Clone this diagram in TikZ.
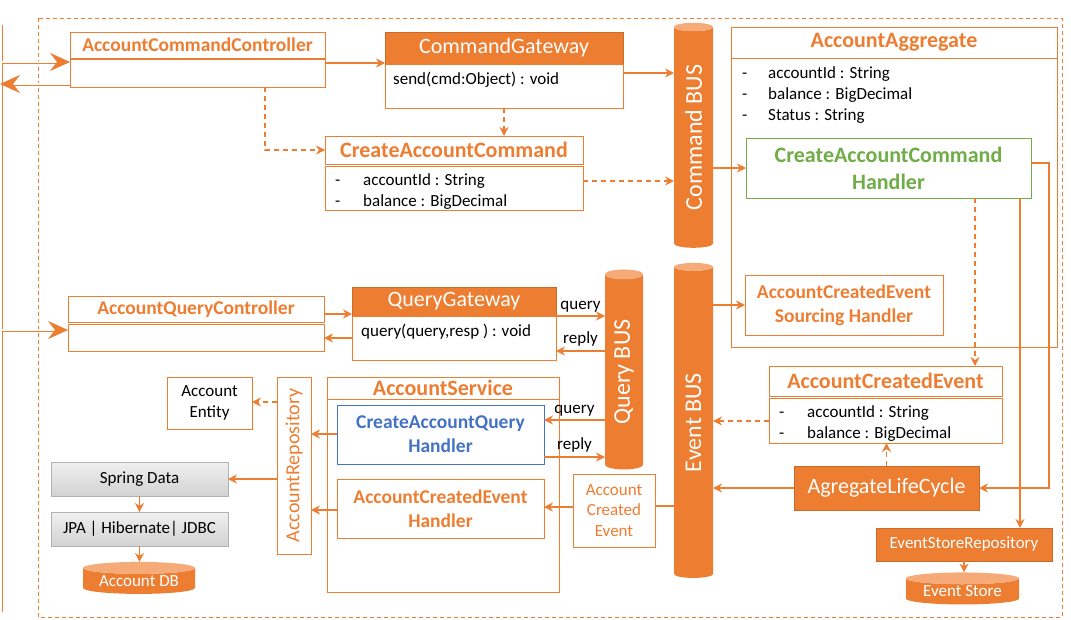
\documentclass[tikz,border=0pt]{standalone}
\usepackage{fontspec}
\setmainfont{Carlito}
\usepackage{graphicx}
\usetikzlibrary{arrows.meta,shapes.geometric}
\definecolor{ora}{RGB}{237,125,49}
\definecolor{oralight}{RGB}{245,170,120}
\definecolor{grn}{RGB}{112,173,71}
\definecolor{blu}{RGB}{68,114,196}
\newcommand{\dashfld}[2]{\makebox[#1][l]{-}#2}

\tikzset{
  >={Stealth[length=9pt,width=9pt,inset=3pt]},
  umlbox/.style={draw=ora, line width=0.9pt, fill=white, inner sep=0pt, outer sep=0pt, anchor=north west, align=center},
  ttl/.style={umlbox, text=ora, font=\fontsize{19.5}{24}\selectfont\bfseries},
  ttlbig/.style={ttl, font=\fontsize{22}{27}\selectfont\bfseries},
  hdr/.style={umlbox, draw=ora!85!black, fill=ora, text=white, font=\fontsize{22}{26}\selectfont},
  fld/.style={anchor=west, inner sep=0pt, align=left, font=\fontsize{17}{21}\selectfont},
  greybox/.style={umlbox, draw=gray!60, top color=gray!12, bottom color=gray!35, font=\fontsize{17}{20}\selectfont},
  bus/.style={cylinder, shape border rotate=90, aspect=0.5, cylinder uses custom fill, cylinder body fill=ora, cylinder end fill=oralight, inner sep=0pt, outer sep=0pt, text=white, minimum width=39pt, font=\fontsize{24}{28}\selectfont},
  conn/.style={draw=ora, line width=1.2pt},
  dconn/.style={conn, dash pattern=on 5pt off 4pt},
  dbl/.style={draw=ora, line width=0.7pt, double=white, double distance=1.6pt, -{Stealth[length=20pt,width=18pt,inset=7pt]}},
  lbl/.style={inner sep=0pt, font=\fontsize{17}{20}\selectfont}
}

\begin{document}
\begin{tikzpicture}[x=1pt,y=-1pt]
  \useasboundingbox (0,0) rectangle (1071,619);
  % frame and client side
  \draw[ora, line width=0.8pt, dash pattern=on 4pt off 3pt] (38,18) rectangle (1062,617);
  \draw[ora, line width=1pt] (2,25) -- (2,612);
  \coordinate (in1) at (2,62);
  \coordinate (out1) at (0,84);
  \coordinate (in2) at (2,330);

  % command side
  \node[ttl, minimum width=255pt, minimum height=26pt] (acct) at (70,32) {AccountCommandController};
  \node[umlbox, minimum width=255pt, minimum height=28pt] (accb) at (70,59) {};
  \node[hdr, minimum width=238pt, minimum height=32pt] (cgh) at (385,32) {CommandGateway};
  \node[umlbox, minimum width=238pt, minimum height=44pt] (cgb) at (385,64) {};
  \node[fld] (cgsend) at (393,80) {send(cmd:Object) : void};
  \node[ttlbig, minimum width=258pt, minimum height=28pt] (cac) at (325,136) {CreateAccountCommand};
  \node[umlbox, minimum width=258pt, minimum height=44pt] (cacb) at (325,166) {};
  \node[fld] (cacf) at (335,192) {\dashfld{28pt}{accountId : String}\\\dashfld{28pt}{balance : BigDecimal}};

  % buses
  \node[bus, minimum height=225pt] (cbus) at (693.5,137.5) {\rotatebox{90}{Command BUS}};
  \node[bus, minimum height=200pt, minimum width=38pt] (qbus) at (624,372) {\rotatebox{90}{Query BUS}};
  \node[bus, minimum height=315pt] (ebus) at (693.5,422.5) {\rotatebox{90}{Event BUS}};

  % aggregate
  \node[ttlbig, minimum width=326pt, minimum height=31pt] (aggt) at (731,27) {AccountAggregate};
  \node[umlbox, minimum width=326pt, minimum height=289pt] (aggb) at (731,58) {};
  \node[fld] (aggf) at (742,95) {\dashfld{26pt}{accountId : String}\\\dashfld{26pt}{balance : BigDecimal}\\\dashfld{26pt}{Status : String}};
  \node[ttlbig, draw=grn, text=grn, minimum width=285pt, minimum height=60pt] (cach) at (746,138) {CreateAccountCommand\\Handler};
  \node[ttl, minimum width=198pt, minimum height=60pt] (aces) at (745,275) {AccountCreatedEvent\\Sourcing Handler};
  \node[ttlbig, minimum width=233pt, minimum height=30pt] (ace) at (769,366) {AccountCreatedEvent};
  \node[umlbox, minimum width=233pt, minimum height=45pt] (aceb) at (769,398) {};
  \node[fld] (acef) at (779,424) {\dashfld{28pt}{accountId : String}\\\dashfld{28pt}{balance : BigDecimal}};
  \node[hdr, minimum width=185pt, minimum height=44pt] (alc) at (794,466) {AgregateLifeCycle};
  \node[hdr, minimum width=176pt, minimum height=33pt, font=\fontsize{17}{20}\selectfont] (esr) at (876,528) {EventStoreRepository};
  \node[bus, aspect=0.15, minimum width=113pt, minimum height=32pt, font=\fontsize{17}{20}\selectfont] (es) at (962.5,591.5) {Event Store};

  % query side
  \node[ttl, minimum width=256pt, minimum height=26pt] (aqc) at (68,296) {AccountQueryController};
  \node[umlbox, minimum width=256pt, minimum height=27pt] (aqcb) at (68,324) {};
  \node[hdr, minimum width=204pt, minimum height=29pt] (qgh) at (352,287) {QueryGateway};
  \node[umlbox, minimum width=204pt, minimum height=44pt] (qgb) at (352,316) {};
  \node[fld] (qgq) at (361,332) {query(query,resp ) : void};
  \node[ttlbig, minimum width=232pt, minimum height=22pt] (asv) at (327,377) {AccountService};
  \node[umlbox, minimum width=232pt, minimum height=193pt] (asvb) at (327,399) {};
  \node[ttl, draw=blu, text=blu, minimum width=207pt, minimum height=59pt] (caqh) at (337,405) {CreateAccountQuery\\Handler};
  \node[ttl, minimum width=207pt, minimum height=59pt] (aceh) at (337,479) {AccountCreatedEvent\\Handler};
  \node[umlbox, text=ora, minimum width=82pt, minimum height=73pt, font=\fontsize{17}{20.5}\selectfont] (evt) at (573,474) {Account\\Created\\Event};
  \node[umlbox, text=ora, minimum width=34pt, minimum height=177pt, font=\fontsize{20}{24}\selectfont] (arep) at (277,377) {\rotatebox{90}{AccountRepository}};
  \node[umlbox, minimum width=85pt, minimum height=52pt, font=\fontsize{17}{21}\selectfont] (ent) at (167,377) {Account\\Entity};
  \node[greybox, minimum width=177pt, minimum height=34pt] (spd) at (51,462) {Spring Data};
  \node[greybox, minimum width=177pt, minimum height=34pt] (jpa) at (51,512) {JPA | Hibernate| JDBC};
  \node[bus, aspect=0.15, minimum width=112pt, minimum height=32pt, font=\fontsize{17}{20}\selectfont] (adb) at (139,581) {Account DB};

  % connectors
  \draw[dbl] (in1) -- (in1 -| accb.west);
  \draw[dbl] (accb.west |- out1) -- (out1);
  \draw[dbl] (in2) -- (in2 -| aqcb.west);
  \draw[conn,->] (accb.east |- 0,63) -- (cgh.west |- 0,63);
  \draw[conn,->] (cgb.east |- 0,73) -- (cbus.west |- 0,73);
  \draw[dconn,->] (cgb.south) -- (cgb.south |- cac.north);
  \draw[dconn,->] (265,0 |- accb.south) |- (cac.west);
  \draw[dconn,->] (cacb.east |- 0,181) -- (cbus.west |- 0,181);
  \draw[conn,->] (cbus.east |- 0,168) -- (cach.west |- 0,168);
  \draw[conn,->] (ebus.east |- 0,305) -- (aces.west |- 0,305);
  \draw[dconn,->] (cach.south -| 975,0) -- (ace.north -| 975,0);
  \draw[conn,->] (cach.south -| 1020,0) -- (esr.north -| 1020,0);
  \draw[conn,->] (cach.east |- 0,163) -| (1049,0 |- alc.east) -- (alc.east);
  \draw[dconn,->] (aceb.west |- 0,421) -- (ebus.east |- 0,421);
  \draw[dconn,->] (alc.north) -- (alc.north |- aceb.south);
  \draw[conn,->] (alc.west) -- (alc.west -| ebus.east);
  \draw[conn,->] (esr.south) -- (esr.south |- es.north);
  \draw[conn,->] (aqc.east |- 0,314) -- (qgh.west |- 0,314);
  \draw[conn,->] (qgb.west |- 0,338) -- (aqcb.east |- 0,338);
  \draw[conn,->] (qgb.east |- 0,316) -- node[lbl,above=3pt] (lq1) {query} (qbus.west |- 0,316);
  \draw[conn,->] (qbus.west |- 0,351) -- node[lbl,above=4pt] (lr1) {reply} (qgb.east |- 0,351);
  \draw[conn,->] (qbus.west |- 0,420) -- node[lbl,above=3pt] (lq2) {query} (caqh.east |- 0,420);
  \draw[conn,->] (caqh.east |- 0,457) -- node[lbl,above=4pt] (lr2) {reply} (qbus.west |- 0,457);
  \draw[conn] (ebus.west |- 0,506) -- (evt.east |- 0,506);
  \draw[conn,->] (evt.west |- 0,507) -- (aceh.east |- 0,507);
  \draw[conn,->] (caqh.west |- 0,434) -- (arep.east |- 0,434);
  \draw[conn,->] (aceh.west |- 0,510) -- (arep.east |- 0,510);
  \draw[dconn,->] (arep.west |- 0,402) -- (ent.east |- 0,402);
  \draw[conn,->] (arep.west |- 0,479) -- (spd.east |- 0,479);
  \draw[conn,->] (spd.south) -- (jpa.north);
  \draw[conn,->] (jpa.south) -- (jpa.south |- adb.north);
\end{tikzpicture}
\end{document}
